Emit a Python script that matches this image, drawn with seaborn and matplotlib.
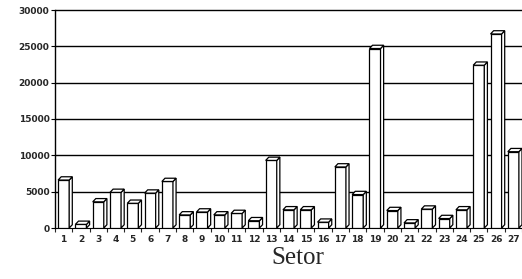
import pandas as pd
import matplotlib
matplotlib.use("Agg")
import matplotlib.pyplot as plt
from matplotlib.patches import Polygon
import seaborn as sns

# data
setores = [str(i) for i in range(1, 28)]
valores = [6600, 500, 3600, 4900, 3400, 4800, 6400, 1800, 2200, 1800,
           2000, 1000, 9300, 2500, 2500, 800, 8400, 4600, 24700, 2400,
           700, 2600, 1300, 2500, 22400, 26700, 10500]
yticks = [0, 5000, 10000, 15000, 20000, 25000, 30000]

df = pd.DataFrame({"Setor": setores, "Valor": valores})

sns.set_style("white")
fig = plt.figure(figsize=(5.22, 2.79), dpi=100)
ax = fig.add_axes([55 / 522, 1 - 228 / 279, 1 - 55 / 522, (228 - 10) / 279])

sns.barplot(data=df, x="Setor", y="Valor", color="white", edgecolor="black",
            linewidth=0.9, width=0.64, ax=ax, zorder=3)

# fake 3D: top and side faces from each bar's own geometry
dx, dy = 0.18, 450
for p in list(ax.patches):
    x0, y0 = p.get_x(), p.get_y()
    w, h = p.get_width(), p.get_height()
    top = Polygon([(x0, y0 + h), (x0 + dx, y0 + h + dy), (x0 + w + dx, y0 + h + dy),
                   (x0 + w, y0 + h)], closed=True, fc="white", ec="black", lw=0.9, zorder=3)
    side = Polygon([(x0 + w, y0), (x0 + w + dx, y0 + dy), (x0 + w + dx, y0 + h + dy),
                    (x0 + w, y0 + h)], closed=True, fc="white", ec="black", lw=0.9, zorder=3)
    ax.add_patch(side)
    ax.add_patch(top)

ax.set_ylim(0, 30000)
ax.set_xlim(-0.4, 26.3)
ax.set_yticks(yticks)
ax.set_yticklabels([str(v) for v in yticks], fontsize=6.5, fontweight="bold")
ax.set_xticklabels(setores, fontsize=6.5, fontweight="bold")
for v in yticks[1:]:
    ax.axhline(v, color="black", lw=1.0, zorder=1, clip_on=False)

for s in ["top", "right"]:
    ax.spines[s].set_visible(False)
ax.spines["left"].set_color("black")
ax.spines["bottom"].set_color("black")
ax.spines["left"].set_linewidth(1.0)
ax.spines["bottom"].set_linewidth(0.8)
ax.tick_params(axis="y", length=3, width=0.8, direction="out", pad=1, color="black", left=True)
ax.tick_params(axis="x", length=0, pad=5)
# little separators between categories on the baseline
ax.set_xticks([i + 0.5 for i in range(-1, 27)], minor=True)
ax.tick_params(axis="x", which="minor", length=3, width=0.8, direction="out", bottom=True)

ax.set_ylabel("")
ax.set_xlabel("Setor", family="Liberation Serif", fontsize=18)
ax.xaxis.set_label_coords((298 - 55) / (522 - 55), -0.085, transform=ax.transAxes)
ax.xaxis.label.set_va("top")

fig.savefig("out.png", dpi=100)
